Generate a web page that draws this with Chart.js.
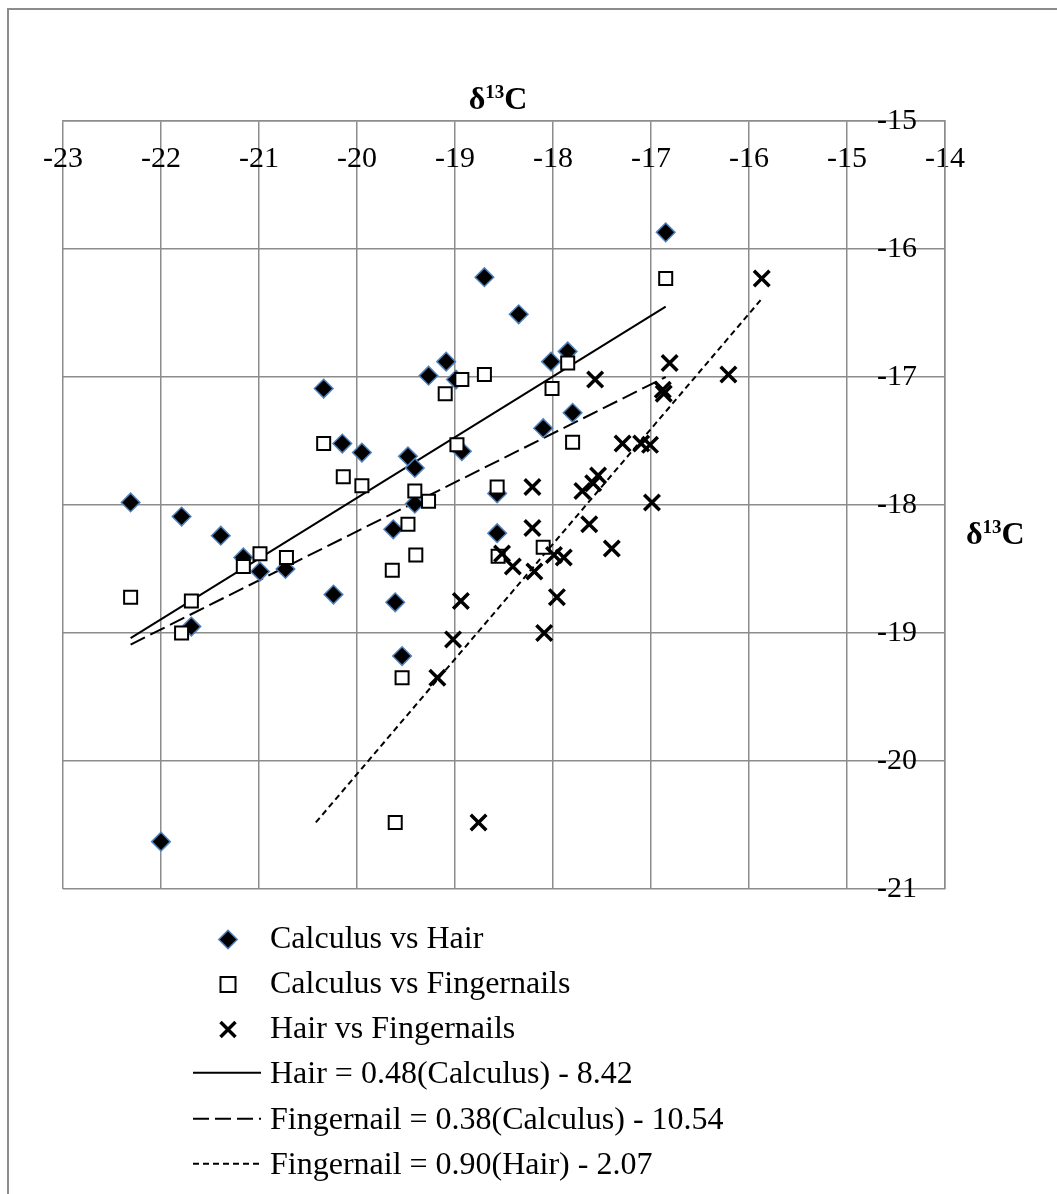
<!DOCTYPE html>
<html>
<head>
<meta charset="utf-8">
<title>δ13C calculus, hair and fingernails</title>
<script src="https://cdn.jsdelivr.net/npm/chart.js@4.4.0/dist/chart.umd.min.js"></script>
<style>
  html, body { margin: 0; padding: 0; background: #fff; }
  #wrap { position: relative; width: 1057px; height: 1194px; overflow: hidden;
          font-family: "Liberation Serif", "Times New Roman", serif; color: #000; }
  #frame { position: absolute; left: 7px; top: 8px; right: -10px; bottom: -10px;
           border-left: 2px solid #8c8c8c; border-top: 2px solid #8c8c8c; }
  #chart { position: absolute; left: 0; top: 0; }
  .axtitle { position: absolute; font-weight: bold; font-size: 32px; line-height: 40px; white-space: nowrap; }
  .sup { font-size: 19px; vertical-align: 11px; }
  #legend { position: absolute; left: 190px; top: 914.5px; font-size: 32px; }
  .row { position: relative; height: 45.3px; line-height: 45.3px; }
  .row svg { position: absolute; left: 0; top: 0; }
  .row span { position: absolute; left: 80px; top: 0; white-space: nowrap; }
</style>
</head>
<body>
<div id="wrap">
  <div id="frame"></div>
  <canvas id="chart" width="1057" height="1194"></canvas>
  <div class="axtitle" style="left:448px; width:100px; text-align:center; top:72px;">δ<span class="sup">13</span>C</div>
  <div class="axtitle" style="left:966px; top:507px;">δ<span class="sup">13</span>C</div>
  <div id="legend"></div>
</div>
<script>
// axis ticks
var xTickValues = [-23, -22, -21, -20, -19, -18, -17, -16, -15, -14];
var yTickValues = [-21, -20, -19, -18, -17, -16, -15];

var seriesNames = [
  'Calculus vs Hair',
  'Calculus vs Fingernails',
  'Hair vs Fingernails',
  'Hair = 0.48(Calculus) - 8.42',
  'Fingernail = 0.38(Calculus) - 10.54',
  'Fingernail = 0.90(Hair) - 2.07'
];

// calculus (x) vs hair (y)
var calcHairX = [-22.31, -21.79, -21.39, -21.16, -20.99, -20.73, -21.69, -20.34, -20.15, -19.95,
                 -20.24, -22.00, -18.70, -18.35, -19.09, -19.27, -18.99, -18.02, -17.85, -17.80,
                 -18.10, -19.48, -19.41, -18.93, -19.41, -19.63, -18.57, -18.57, -19.61, -19.54, -16.85];
var calcHairY = [-17.98, -18.09, -18.24, -18.41, -18.52, -18.50, -18.95, -17.09, -17.52, -17.59,
                 -18.70, -20.63, -16.22, -16.51, -16.88, -16.99, -17.02, -16.88, -16.80, -17.28,
                 -17.40, -17.62, -17.71, -17.58, -17.99, -18.19, -17.91, -18.22, -18.76, -19.18, -15.87];

// calculus (x) vs fingernails (y)
var calcNailX = [-22.31, -21.69, -21.79, -21.16, -20.99, -20.72, -20.34, -20.14, -19.95, -19.10,
                 -18.93, -18.70, -17.85, -18.01, -17.80, -18.98, -19.41, -19.27, -19.48, -18.57,
                 -18.10, -19.40, -19.64, -18.56, -19.54, -19.61, -16.85];
var calcNailY = [-18.72, -18.75, -19.00, -18.48, -18.38, -18.41, -17.52, -17.78, -17.85, -17.13,
                 -17.02, -16.98, -16.89, -17.09, -17.51, -17.53, -17.89, -17.97, -18.15, -17.86,
                 -18.33, -18.39, -18.51, -18.40, -19.35, -20.48, -16.23];

// hair (x) vs fingernails (y)
var hairNailX = [-18.21, -17.70, -17.59, -17.54, -16.99, -18.21, -17.63, -17.40, -18.52, -18.41,
                 -18.19, -17.99, -17.89, -17.96, -18.94, -18.09, -19.02, -19.18, -18.76, -15.87,
                 -16.81, -17.57, -16.21, -16.88, -16.87, -17.29, -17.10, -17.01];
var hairNailY = [-17.86, -17.89, -17.83, -17.77, -17.98, -18.18, -18.15, -18.34, -18.38, -18.48,
                 -18.52, -18.39, -18.41, -18.72, -18.75, -19.00, -19.05, -19.35, -20.48, -16.23,
                 -16.89, -17.02, -16.98, -17.10, -17.13, -17.52, -17.52, -17.53];

// trend line end points
var fitHairX = [-22.31, -16.85];
var fitHairY = [-19.04, -16.45];
var fitCalcNailX = [-22.31, -16.85];
var fitCalcNailY = [-19.09, -17.00];
var fitHairNailX = [-20.42, -15.86];
var fitHairNailY = [-20.48, -16.38];

var serif = "'Liberation Serif', 'Times New Roman', serif";
var gridColor = '#8c8c8c';

function pts(xs, ys) {
  return xs.map(function (x, i) { return { x: x, y: ys[i] }; });
}

function trend(name, xs, ys, dash, order) {
  return {
    label: name, data: pts(xs, ys), showLine: true, fill: false,
    borderColor: '#000', borderWidth: 2, borderDash: dash,
    pointRadius: 0, order: order
  };
}

new Chart(document.getElementById('chart'), {
  type: 'scatter',
  data: {
    datasets: [
      { label: seriesNames[0], data: pts(calcHairX, calcHairY), pointStyle: 'rectRot', pointRadius: 9.3,
        pointBackgroundColor: '#000', pointBorderColor: '#4f81bd', pointBorderWidth: 1.5, order: 3 },
      { label: seriesNames[1], data: pts(calcNailX, calcNailY), pointStyle: 'rect', pointRadius: 9.2,
        pointBackgroundColor: '#fff', pointBorderColor: '#000', pointBorderWidth: 2, order: 2 },
      { label: seriesNames[2], data: pts(hairNailX, hairNailY), pointStyle: 'crossRot', pointRadius: 11,
        pointBackgroundColor: '#000', pointBorderColor: '#000', pointBorderWidth: 3.5, order: 1 },
      trend(seriesNames[3], fitHairX, fitHairY, [], 4),
      trend(seriesNames[4], fitCalcNailX, fitCalcNailY, [16, 6], 5),
      trend(seriesNames[5], fitHairNailX, fitHairNailY, [6, 4], 6)
    ]
  },
  options: {
    responsive: false,
    animation: false,
    events: [],
    layout: { padding: { left: 63, right: 0, top: 0, bottom: 305 } },
    plugins: { legend: { display: false }, tooltip: { enabled: false } },
    scales: {
      x: {
        type: 'linear', position: 'top', min: -23, max: -14,
        afterBuildTicks: function (s) { s.ticks = xTickValues.map(function (v) { return { value: v }; }); },
        afterFit: function (s) { s.height = 121; },
        grid: { color: gridColor, lineWidth: 1.5, drawTicks: false },
        border: { color: gridColor, width: 1.5 },
        ticks: { mirror: true, padding: 20, maxRotation: 0, autoSkip: false, color: '#000',
                 font: { family: serif, size: 30 }, callback: function (v) { return String(v); } }
      },
      y: {
        type: 'linear', position: 'right', min: -21, max: -15,
        afterBuildTicks: function (s) { s.ticks = yTickValues.map(function (v) { return { value: v }; }); },
        afterFit: function (s) { s.width = 112; },
        grid: { color: gridColor, lineWidth: 1.5, drawTicks: false },
        border: { color: gridColor, width: 1.5 },
        ticks: { mirror: true, padding: -28, autoSkip: false, color: '#000',
                 font: { family: serif, size: 30 }, callback: function (v) { return String(v); } }
      }
    }
  }
});

// legend, one entry per line
var markers = [
  '<polygon points="28.8,24.5 38,15.3 47.2,24.5 38,33.7" fill="#000" stroke="#4f81bd" stroke-width="1.5"/>',
  '<rect x="30.5" y="17" width="15" height="15" fill="#fff" stroke="#000" stroke-width="2"/>',
  '<path d="M30.5,17 L45.5,32 M45.5,17 L30.5,32" stroke="#000" stroke-width="3.5" fill="none"/>',
  '<line x1="3" y1="22.7" x2="71" y2="22.7" stroke="#000" stroke-width="2"/>',
  '<line x1="3" y1="22.7" x2="71" y2="22.7" stroke="#000" stroke-width="2" stroke-dasharray="16 6"/>',
  '<line x1="3" y1="22.7" x2="71" y2="22.7" stroke="#000" stroke-width="2" stroke-dasharray="6 4"/>'
];
var legendHtml = '';
seriesNames.forEach(function (name, i) {
  legendHtml += '<div class="row"><svg width="80" height="46">' + markers[i] + '</svg><span>' + name + '</span></div>';
});
document.getElementById('legend').innerHTML = legendHtml;
</script>
</body>
</html>
